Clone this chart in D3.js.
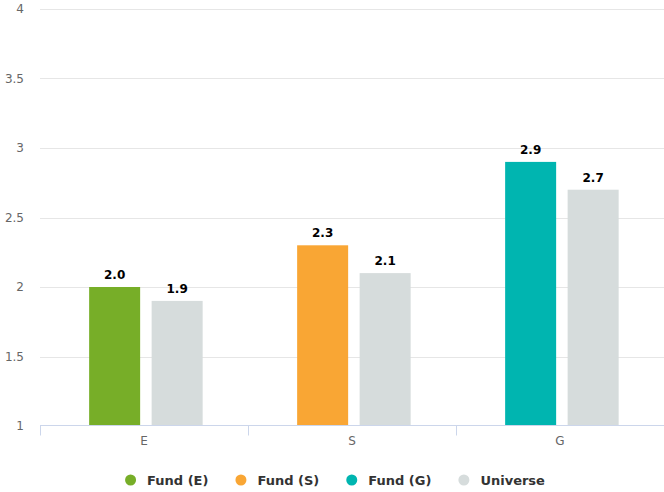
<!DOCTYPE html>
<html>
<head>
<meta charset="utf-8">
<script src="https://cdn.jsdelivr.net/npm/d3@7"></script>
<style>
  body { margin: 0; background: #fff; }
  svg { font-family: "DejaVu Sans", sans-serif; }
</style>
</head>
<body>
<div id="chart"></div>
<script>
var categories = ["E", "S", "G"];
var fundValues = [2.0, 2.3, 2.9];
var universeValues = [1.9, 2.1, 2.7];
var fundNames = ["Fund (E)", "Fund (S)", "Fund (G)"];
var fundColors = ["#77ae28", "#f9a634", "#00b5b0"];
var universeColor = "#d6dcdc";
var yTicks = [1, 1.5, 2, 2.5, 3, 3.5, 4];

var width = 664, height = 492;
var margin = {top: 9, right: 0, bottom: 66, left: 40};

var svg = d3.select("#chart").append("svg")
    .attr("width", width)
    .attr("height", height);

var x0 = d3.scaleBand()
    .domain(categories)
    .range([margin.left, width - margin.right]);

var x1 = d3.scaleBand()
    .domain(["fund", "universe"])
    .range([0, x0.bandwidth()])
    .paddingInner(0.184)
    .paddingOuter(0.756)
    .align(0.52);

var y = d3.scaleLinear()
    .domain([1, 4])
    .range([height - margin.bottom, margin.top]);

// grid
svg.append("g")
    .selectAll("line")
    .data(yTicks.slice(1))
    .enter().append("line")
    .attr("x1", margin.left)
    .attr("x2", width - margin.right)
    .attr("y1", function(d) { return Math.round(y(d)) + 0.5; })
    .attr("y2", function(d) { return Math.round(y(d)) + 0.5; })
    .attr("stroke", "#e6e6e6");

// y labels
svg.append("g")
    .selectAll("text")
    .data(yTicks)
    .enter().append("text")
    .attr("x", 24)
    .attr("y", function(d) { return y(d) + 4; })
    .attr("text-anchor", "end")
    .attr("fill", "#666")
    .style("font-size", "12px")
    .text(function(d) { return d; });

// bars
var rows = categories.map(function(c, i) {
    return [
        {cat: c, key: "fund", value: fundValues[i], color: fundColors[i]},
        {cat: c, key: "universe", value: universeValues[i], color: universeColor}
    ];
});

var groups = svg.append("g")
    .selectAll("g")
    .data(rows)
    .enter().append("g")
    .attr("transform", function(d, i) { return "translate(" + x0(categories[i]) + ",0)"; });

groups.selectAll("rect")
    .data(function(d) { return d; })
    .enter().append("rect")
    .attr("x", function(d) { return x1(d.key); })
    .attr("width", x1.bandwidth())
    .attr("y", function(d) { return y(d.value); })
    .attr("height", function(d) { return y(1) - y(d.value); })
    .attr("fill", function(d) { return d.color; });

groups.selectAll("text")
    .data(function(d) { return d; })
    .enter().append("text")
    .attr("x", function(d) { return x1(d.key) + x1.bandwidth() / 2; })
    .attr("y", function(d) { return y(d.value) - 8; })
    .attr("text-anchor", "middle")
    .attr("fill", "#000")
    .style("font-size", "12px")
    .style("font-weight", "bold")
    .text(function(d) { return d.value.toFixed(1); });

// x axis
var axisY = Math.round(y(1)) - 0.5;
svg.append("line")
    .attr("x1", margin.left)
    .attr("x2", width - margin.right)
    .attr("y1", axisY)
    .attr("y2", axisY)
    .attr("stroke", "#ccd6eb");

var tickPos = categories.map(function(c) { return x0(c); });
tickPos.push(x0(categories[categories.length - 1]) + x0.bandwidth());
svg.append("g")
    .selectAll("line")
    .data(tickPos)
    .enter().append("line")
    .attr("x1", function(d) { return Math.round(d) + 0.5; })
    .attr("x2", function(d) { return Math.round(d) + 0.5; })
    .attr("y1", axisY)
    .attr("y2", axisY + 10)
    .attr("stroke", "#ccd6eb");

svg.append("g")
    .selectAll("text")
    .data(categories)
    .enter().append("text")
    .attr("x", function(d) { return x0(d) + x0.bandwidth() / 2; })
    .attr("y", axisY + 19)
    .attr("text-anchor", "middle")
    .attr("fill", "#666")
    .style("font-size", "12px")
    .text(function(d) { return d; });

// legend
var legendItems = fundNames.map(function(n, i) { return {name: n, color: fundColors[i]}; });
legendItems.push({name: "Universe", color: universeColor});

var legend = svg.append("g");
var items = legend.selectAll("g")
    .data(legendItems)
    .enter().append("g");

items.append("circle")
    .attr("cx", 5.5)
    .attr("cy", 0)
    .attr("r", 5.5)
    .attr("fill", function(d) { return d.color; });

items.append("text")
    .attr("x", 22)
    .attr("y", 5)
    .attr("fill", "#333")
    .style("font-size", "13px")
    .style("font-weight", "bold")
    .text(function(d) { return d.name; });

var pos = 0, gap = 27;
items.each(function() {
    var g = d3.select(this);
    var w = 22 + g.select("text").node().getComputedTextLength();
    g.attr("transform", "translate(" + pos + ",0)");
    pos += w + gap;
});
var total = pos - gap;
legend.attr("transform", "translate(" + ((width - total) / 2 + 3) + ",480)");
</script>
</body>
</html>
